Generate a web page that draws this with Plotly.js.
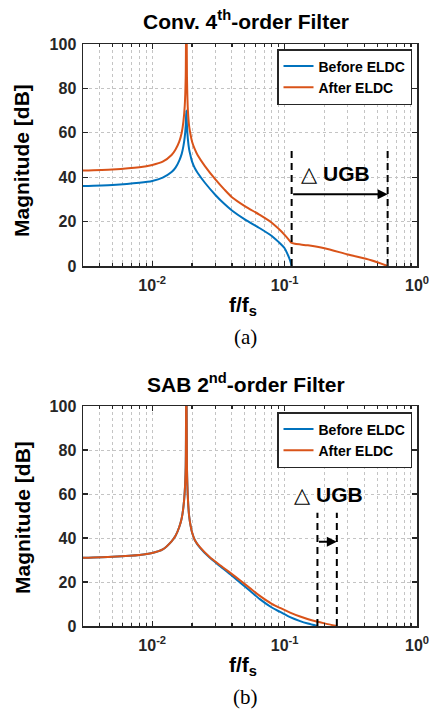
<!DOCTYPE html>
<html>
<head>
<meta charset="utf-8">
<script src="https://cdn.plot.ly/plotly-3.0.1.min.js"></script>
<style>html,body{margin:0;padding:0;background:#fff;}#chart{width:429px;height:718px;}</style>
</head>
<body>
<div id="chart"></div>
<script>
// ---- Data ----
// (a) Conventional 4th-order filter
const fConvBefore = [0.003,0.005,0.008,0.01,0.012,0.014,0.015,0.016,0.0167,0.0172,0.0176,0.0179,0.0181,0.0183,0.0186,0.019,0.0195,0.02,0.021,0.022,0.025,0.03,0.035,0.04,0.05,0.065,0.08,0.093,0.1,0.105,0.11,0.113];
const magConvBefore = [36,36.5,37.5,38.3,39.8,42.3,44.3,47.5,50.5,54,58,63,70,63,57,52.5,49.5,47,44,42,37.5,32,28,25,21,17,13.5,10,8,5.5,2.5,0];
const fConvAfter = [0.003,0.005,0.008,0.01,0.012,0.014,0.015,0.016,0.0167,0.0172,0.0176,0.0179,0.0181,0.0183,0.0186,0.019,0.0195,0.02,0.021,0.022,0.025,0.03,0.035,0.04,0.05,0.065,0.08,0.093,0.1,0.107,0.112,0.12,0.15,0.2,0.3,0.45,0.6];
const magConvAfter = [43,43.5,44.5,45.5,47,50,52.5,56,60,65,72,85,130,85,70,63,59,56,52.5,50,45,39,34.5,31,27,23,19.5,16,14,12,10.5,10,9.3,8,5.2,2.6,0];

// (b) SAB 2nd-order filter
const fSabBefore = [0.003,0.005,0.008,0.01,0.012,0.014,0.015,0.016,0.0167,0.0172,0.0176,0.0179,0.0181,0.0183,0.0186,0.019,0.0195,0.02,0.021,0.023,0.027,0.0326,0.04,0.046,0.055,0.065,0.08,0.0925,0.11,0.131,0.15,0.177];
const magSabBefore = [31,31.5,32.3,33.2,34.8,38.5,41,45,49,54,61,72,130,72,58,50,45.5,42.5,39,35.5,31.2,27.2,22.9,19.8,15.9,12.2,8.4,6.4,4.0,2.2,1.1,0];
const fSabAfter = [0.003,0.005,0.008,0.01,0.012,0.014,0.015,0.016,0.0167,0.0172,0.0176,0.0179,0.0181,0.0183,0.0186,0.019,0.0195,0.02,0.021,0.023,0.027,0.0326,0.04,0.046,0.055,0.065,0.08,0.0925,0.11,0.131,0.16,0.2,0.248];
const magSabAfter = [31,31.5,32.3,33.2,34.8,38.5,41,45,49,54,61,72,130,72,58,50,45.5,42.5,39,35.7,31.5,27.6,23.6,20.8,17.1,13.7,10.1,8.2,6.1,4.3,2.6,1.2,0];

const seriesNames = ['Before ELDC','After ELDC'];
const xTickVals = [0.01,0.1,1];
const xTickText = ['10<sup>-2</sup>','10<sup>-1</sup>','10<sup>0</sup>'];
const yTickVals = [0,20,40,60,80,100];
const minorVals = [0.003,0.004,0.005,0.006,0.007,0.008,0.009,0.02,0.03,0.04,0.05,0.06,0.07,0.08,0.09,0.2,0.3,0.4,0.5,0.6,0.7,0.8,0.9];

// ---- Styling ----
const W = 429, H = 718;
const px = p => p / W;
const py = p => 1 - p / H;
const FONT = 'Liberation Sans, Arial, DejaVu Sans, sans-serif';
const BLUE = '#0072BD', ORANGE = '#D95319';
const AXC = '#262626';

// unity-gain crossings (last points of each curve)
const ugbConvBefore = fConvBefore[fConvBefore.length-1];
const ugbConvAfter = fConvAfter[fConvAfter.length-1];
const ugbSabBefore = fSabBefore[fSabBefore.length-1];
const ugbSabAfter = fSabAfter[fSabAfter.length-1];

function curve(x, y, name, color, xa, ya, leg) {
  return {x:x, y:y, name:name, type:'scatter', mode:'lines', xaxis:xa, yaxis:ya, legend:leg,
          line:{color:color, width:2, shape:'spline', smoothing:0.7}, hoverinfo:'skip'};
}
function vdash(f, top, xa, ya) {
  return {x:[f,f], y:[0,top], type:'scatter', mode:'lines', xaxis:xa, yaxis:ya, showlegend:false,
          line:{color:'black', width:2, dash:'7px,5px'}, hoverinfo:'skip'};
}

const data = [
  curve(fConvBefore, magConvBefore, seriesNames[0], BLUE, 'x', 'y', 'legend'),
  curve(fConvAfter, magConvAfter, seriesNames[1], ORANGE, 'x', 'y', 'legend'),
  vdash(ugbConvBefore, 52, 'x', 'y'),
  vdash(ugbConvAfter, 52, 'x', 'y'),
  curve(fSabBefore, magSabBefore, seriesNames[0], BLUE, 'x2', 'y2', 'legend2'),
  curve(fSabAfter, magSabAfter, seriesNames[1], ORANGE, 'x2', 'y2', 'legend2'),
  vdash(ugbSabBefore, 51.5, 'x2', 'y2'),
  vdash(ugbSabAfter, 51.5, 'x2', 'y2')
];

const tickFont = {family:FONT, size:16, weight:'bold', color:AXC};
function xAxis(anchor, domainX) {
  return {domain:domainX, anchor:anchor, type:'log', range:[Math.log10(0.003), 0],
    tickvals:xTickVals, ticktext:xTickText, ticks:'inside', ticklen:5, tickwidth:1.2, tickcolor:AXC,
    showline:true, linecolor:AXC, linewidth:1.5, mirror:'ticks', zeroline:false,
    showgrid:true, gridcolor:'#c4c4c4', gridwidth:1, griddash:'dot',
    minor:{tickvals:minorVals, ticks:'inside', ticklen:3, tickcolor:AXC, showgrid:true, gridcolor:'#c4c4c4', gridwidth:1, griddash:'dot'},
    tickfont:tickFont, ticklabelstandoff:4, ticklabeloverflow:'allow', fixedrange:true};
}
function yAxis(anchor, domainY) {
  return {domain:domainY, anchor:anchor, range:[0,100], tickvals:yTickVals,
    ticks:'inside', ticklen:5, tickwidth:1.2, tickcolor:AXC,
    showline:true, linecolor:AXC, linewidth:1.5, mirror:'ticks', zeroline:false,
    showgrid:true, gridcolor:'#c4c4c4', gridwidth:1, griddash:'dot',
    tickfont:tickFont, ticklabelstandoff:2, ticklabeloverflow:'allow', fixedrange:true};
}
function legendBox(topPx) {
  return {x:px(412), xanchor:'right', y:py(topPx), yanchor:'top', bgcolor:'white',
    bordercolor:AXC, borderwidth:1.5, font:{family:FONT, size:14, weight:'bold', color:'black'},
    tracegroupgap:0, itemwidth:30};
}
function txt(text, x, y, size, extra) {
  return Object.assign({xref:'paper', yref:'paper', x:px(x), y:py(y), xanchor:'center', yanchor:'middle',
    showarrow:false, text:text, font:{family:FONT, size:size, weight:'bold', color:'black'}}, extra||{});
}
function arrow(xa, ya, f0, f1, yv) {
  return {xref:xa, yref:ya, axref:xa, ayref:ya, x:Math.log10(f1), y:yv, ax:Math.log10(f0), ay:yv,
    showarrow:true, arrowhead:2, arrowsize:1, arrowwidth:2, arrowcolor:'black', standoff:0, startstandoff:0, text:''};
}

const layout = {
  width:W, height:H, margin:{l:0, r:0, t:0, b:0},
  paper_bgcolor:'white', plot_bgcolor:'white', showlegend:true,
  xaxis: xAxis('y', [px(83), px(417)]),
  yaxis: yAxis('x', [py(266), py(44)]),
  xaxis2: xAxis('y2', [px(83), px(417)]),
  yaxis2: yAxis('x2', [py(626), py(406)]),
  legend: legendBox(49),
  legend2: legendBox(412),
  annotations: [
    txt('Conv. 4<sup>th</sup>-order Filter', 246, 20, 21),
    txt('SAB 2<sup>nd</sup>-order Filter', 246, 383, 21),
    txt('Magnitude [dB]', 22, 161, 21, {textangle:-90}),
    txt('Magnitude [dB]', 22, 518, 21, {textangle:-90}),
    txt('f/f<sub>s</sub>', 243, 306, 21),
    txt('f/f<sub>s</sub>', 243, 666, 21),
    txt('(a)', 245, 337, 21, {font:{family:'Liberation Serif, Times New Roman, serif', size:21, color:'black'}}),
    txt('(b)', 245, 697, 21, {font:{family:'Liberation Serif, Times New Roman, serif', size:21, color:'black'}}),
    txt('\u25B3 UGB', 335, 173, 21),
    txt('\u25B3 UGB', 328, 494, 21),
    arrow('x', 'y', ugbConvBefore, ugbConvAfter, 32.3),
    arrow('x2', 'y2', ugbSabBefore, ugbSabAfter, 38.3)
  ]
};

Plotly.newPlot('chart', data, layout, {displayModeBar:false, staticPlot:true});
</script>
</body>
</html>
